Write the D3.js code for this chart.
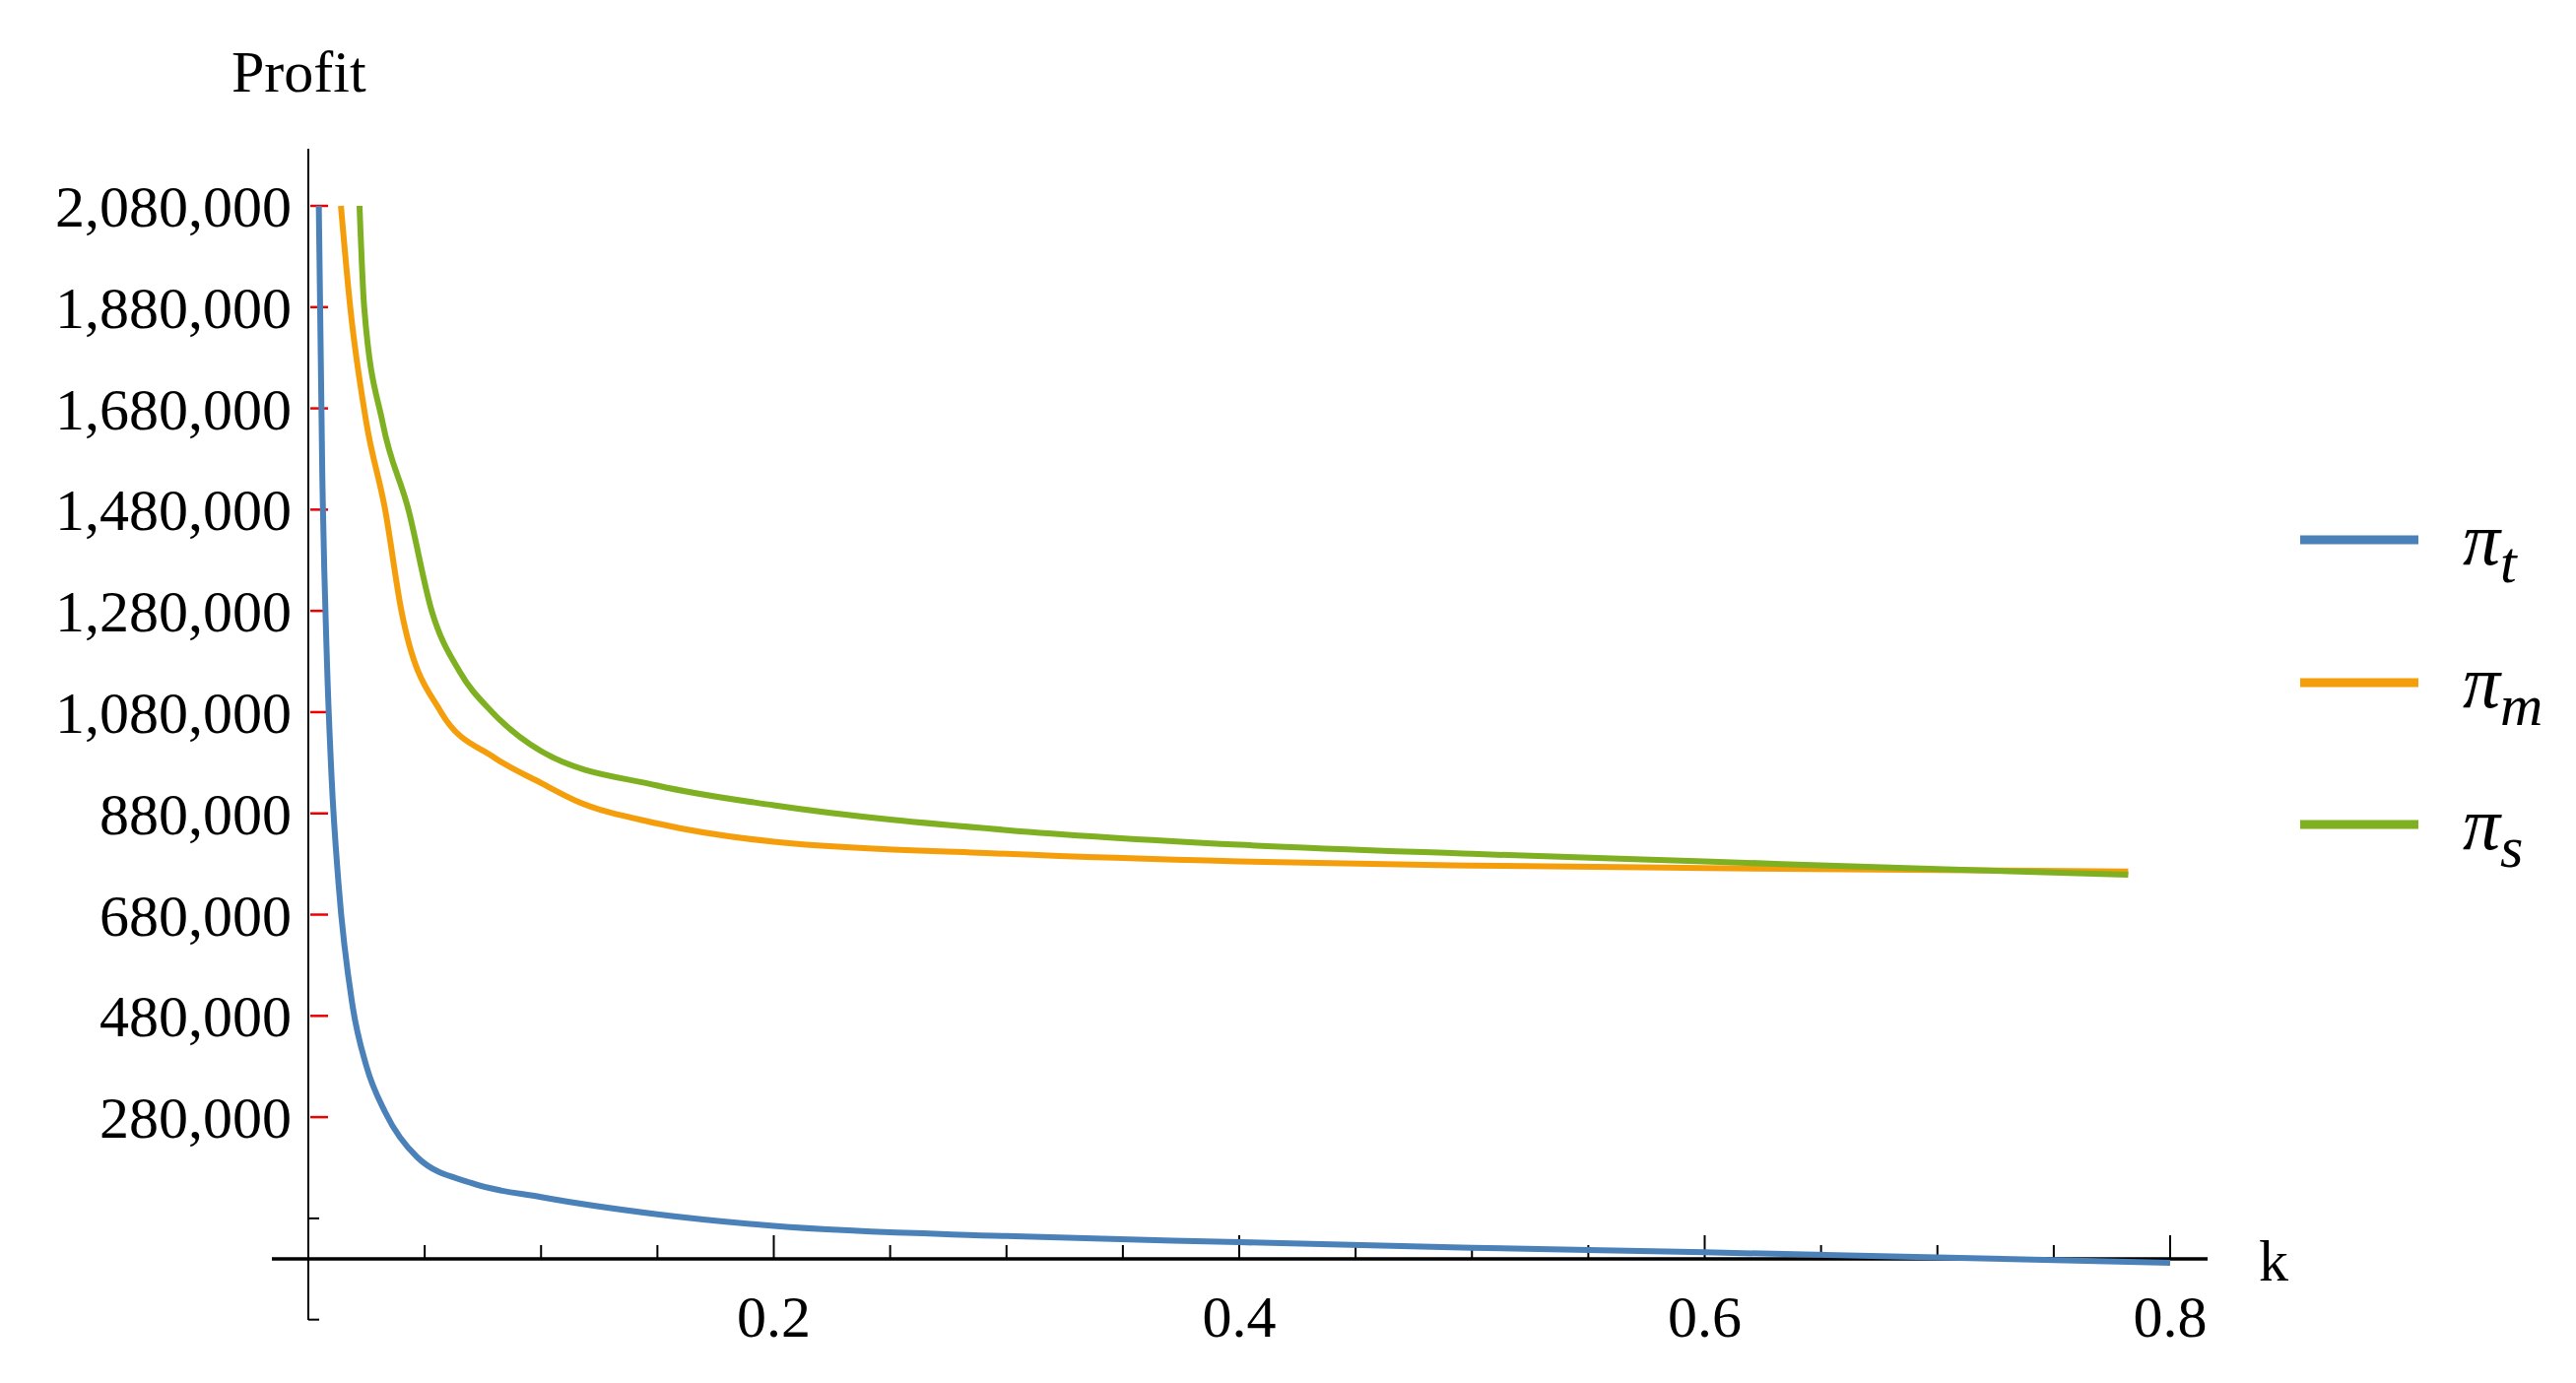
<!DOCTYPE html>
<html><head><meta charset="utf-8">
<script src="https://cdn.jsdelivr.net/npm/d3@7"></script>
<style>body{margin:0;background:#fff}</style></head>
<body><svg id="c" width="2615" height="1404"></svg>
<script>
const yTicks=[280000,480000,680000,880000,1080000,1280000,1480000,1680000,1880000,2080000];
const yMinor=[80000,-120000];
const xLabels=[0.2,0.4,0.6,0.8];
const kT=[0.0045,0.006,0.008,0.01,0.013,0.019,0.025,0.033,0.047,0.07,0.1,0.15,0.2,0.3,0.4,0.5,0.6,0.7,0.8];
const piT=[2080000,1550000,1180000,950000,740000,500000,380000,290000,200000,150000,122000,88000,65000,45000,33000,22000,13000,3000,-8000];
const kM=[0.014,0.018,0.025,0.033,0.04,0.057,0.08,0.1,0.115,0.15,0.2,0.3,0.4,0.5,0.6,0.7,0.782];
const piM=[2080000,1880000,1650000,1480000,1280000,1080000,990000,940000,905000,860000,824000,800000,785000,777000,772000,768000,765000];
const kS=[0.022,0.024,0.032,0.043,0.053,0.065,0.079,0.1,0.15,0.2,0.3,0.4,0.5,0.6,0.7,0.782];
const piS=[2080000,1880000,1650000,1480000,1280000,1160000,1080000,1003000,935000,896000,847000,818000,800000,785000,770000,759000];
const names=["t","m","s"];
const colors=["#4a81b8","#f59e0b","#7fb021"];

const svg=d3.select("#c");
const x=d3.scaleLinear().domain([0,0.8]).range([313,2203]);
const y=d3.scaleLinear().domain([0,2080000]).range([1278,209]);
const serif="'Liberation Serif','DejaVu Serif',serif";

// y axis
svg.append("line").attr("x1",x(0)).attr("x2",x(0)).attr("y1",151).attr("y2",1340).attr("stroke","#000").attr("stroke-width",2);
yTicks.forEach(v=>{
  svg.append("line").attr("x1",x(0)+2).attr("x2",x(0)+20).attr("y1",y(v)).attr("y2",y(v)).attr("stroke","#e00").attr("stroke-width",2.5);
  svg.append("text").attr("x",296).attr("y",y(v)).attr("dy","0.35em").attr("text-anchor","end")
    .attr("font-family",serif).attr("font-size",60).text(d3.format(",")(v));
});
yMinor.forEach(v=>svg.append("line").attr("x1",x(0)).attr("x2",x(0)+11).attr("y1",y(v)).attr("y2",y(v)).attr("stroke","#000").attr("stroke-width",2));
// x axis
svg.append("line").attr("x1",276).attr("x2",2241).attr("y1",y(0)).attr("y2",y(0)).attr("stroke","#000").attr("stroke-width",3.5);
d3.range(1,17).forEach(i=>{const v=i*0.05;const major=i%4===0;
  svg.append("line").attr("x1",x(v)).attr("x2",x(v)).attr("y1",y(0)).attr("y2",y(0)-(major?24:14)).attr("stroke","#000").attr("stroke-width",2);});
xLabels.forEach(v=>svg.append("text").attr("x",x(v)).attr("y",1357).attr("text-anchor","middle")
  .attr("font-family",serif).attr("font-size",60).text(v));
svg.append("text").attr("x",2293).attr("y",1300).attr("font-family",serif).attr("font-size",60).text("k");
svg.append("text").attr("x",235).attr("y",93).attr("font-family",serif).attr("font-size",60).text("Profit");

const line=d3.line().x(d=>x(d[0])).y(d=>y(d[1])).curve(d3.curveMonotoneX);
[[kT,piT],[kM,piM],[kS,piS]].forEach(([ks,vs],i)=>{
  svg.append("path").attr("d",line(ks.map((k,j)=>[k,vs[j]]))).attr("fill","none")
    .attr("stroke",colors[i]).attr("stroke-width",6);
});
// legend
const ly=[548,693,837];
names.forEach((n,i)=>{
  svg.append("line").attr("x1",2335).attr("x2",2455).attr("y1",ly[i]).attr("y2",ly[i]).attr("stroke",colors[i]).attr("stroke-width",9);
  const t=svg.append("text").attr("x",2500).attr("y",ly[i]+25).attr("font-family",serif).attr("font-style","italic").attr("font-size",76);
  t.append("tspan").text("π");
  t.append("tspan").attr("dy",18).attr("font-size",60).text(n);
});
</script></body></html>
